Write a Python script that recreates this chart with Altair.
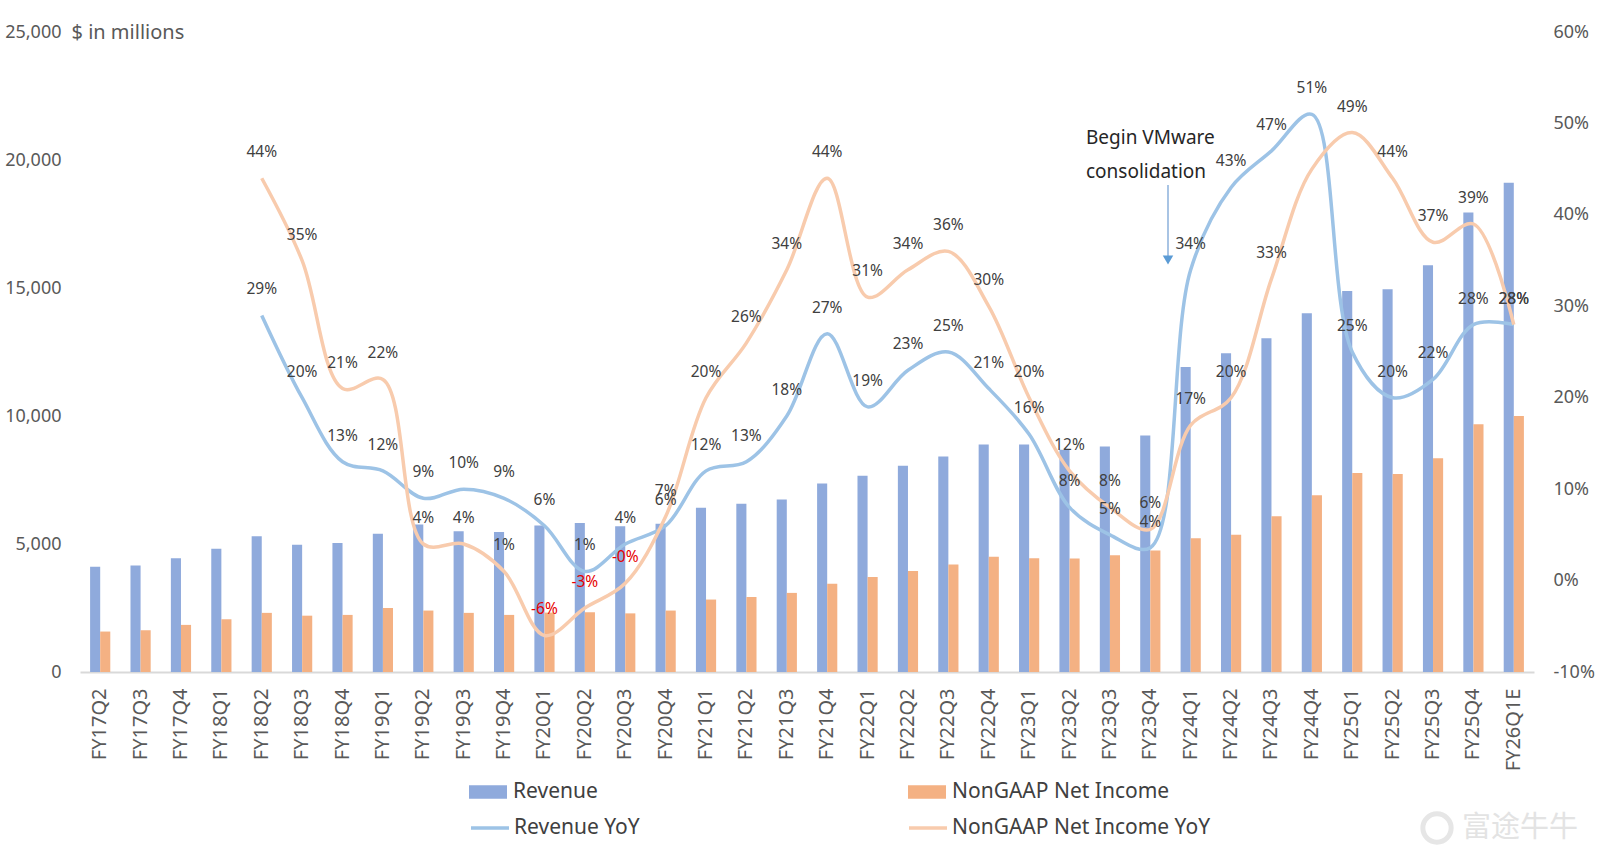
import altair as alt
import pandas as pd

FONT = "Noto Sans"

quarters = ["FY17Q2", "FY17Q3", "FY17Q4", "FY18Q1", "FY18Q2", "FY18Q3", "FY18Q4",
            "FY19Q1", "FY19Q2", "FY19Q3", "FY19Q4", "FY20Q1", "FY20Q2", "FY20Q3",
            "FY20Q4", "FY21Q1", "FY21Q2", "FY21Q3", "FY21Q4", "FY22Q1", "FY22Q2",
            "FY22Q3", "FY22Q4", "FY23Q1", "FY23Q2", "FY23Q3", "FY23Q4", "FY24Q1",
            "FY24Q2", "FY24Q3", "FY24Q4", "FY25Q1", "FY25Q2", "FY25Q3", "FY25Q4",
            "FY26Q1E"]

# $ in millions
revenue = [4110, 4160, 4440, 4810, 5300, 4970, 5040, 5400, 5760, 5500, 5470, 5720,
           5820, 5690, 5790, 6420, 6570, 6740, 7360, 7670, 8060, 8420, 8890, 8890,
           8680, 8810, 9240, 11910, 12450, 13040, 14010, 14880, 14950, 15890, 17950, 19110]
net_income = [1580, 1630, 1840, 2060, 2310, 2200, 2230, 2500, 2400, 2310, 2230, 2320,
              2330, 2290, 2400, 2830, 2930, 3090, 3450, 3710, 3950, 4200, 4500, 4440,
              4430, 4560, 4750, 5220, 5360, 6080, 6900, 7770, 7730, 8350, 9680, 10000]

# year-over-year growth, percent (no comparison for the first four quarters)
revenue_yoy = [None] * 4 + [29, 20, 13, 12, 9, 10, 9, 6, 1, 4, 6, 12, 13, 18, 27, 19,
                            23, 25, 21, 16, 8, 5, 3.6, 34, 43, 47, 51, 25, 20, 22, 28, 28]
net_income_yoy = [None] * 4 + [44, 35, 21, 22, 4, 4, 1, -6, -3, -0.3, 7, 20, 26, 34, 44, 31,
                               34, 36, 30, 20, 12, 8, 5.6, 17, 20, 33, 45, 49, 44, 37, 39, 28]
# points drawn without a value label
unlabelled = [("NonGAAP Net Income YoY", "FY24Q4")]

bar_names = ["Revenue", "NonGAAP Net Income"]
bar_colors = ["#8faadc", "#f4b183"]
line_names = ["Revenue YoY", "NonGAAP Net Income YoY"]
line_colors = ["#9dc3e6", "#f8cbad"]

n = len(quarters)
bars_df = pd.DataFrame({
    "Quarter": quarters * 2,
    "Series": [bar_names[0]] * n + [bar_names[1]] * n,
    "Value": revenue + net_income,
})

rows = []
for name, series in zip(line_names, [revenue_yoy, net_income_yoy]):
    for q, v in zip(quarters, series):
        if v is not None:
            rows.append({"Quarter": q, "Series": name, "YoY": v,
                         "Show": (name, q) not in unlabelled})
lines_df = pd.DataFrame(rows)

x_enc = alt.X(
    "Quarter:N", sort=quarters, title=None,
    scale=alt.Scale(paddingInner=0.5, paddingOuter=0.25),
    axis=alt.Axis(labelAngle=-90, labelFont=FONT, labelFontSize=20, labelColor="#595959",
                  labelPadding=16, ticks=False, grid=False, domainColor="#d9d9d9",
                  domainWidth=2, labelOverlap=False),
)

bars = alt.Chart(bars_df).mark_bar().encode(
    x=x_enc,
    xOffset=alt.XOffset("Series:N", sort=bar_names,
                        scale=alt.Scale(paddingInner=0, paddingOuter=0)),
    y=alt.Y("Value:Q", scale=alt.Scale(domain=[0, 25000], nice=False),
            axis=alt.Axis(orient="left", values=[0, 5000, 10000, 15000, 20000, 25000],
                          format=",.0f", grid=False, ticks=False, domain=False,
                          labelFont=FONT, labelFontSize=18, labelColor="#595959",
                          labelPadding=19, title="$ in millions", titleAngle=0,
                          titleAlign="left", titleBaseline="middle", titleX=-9, titleY=0,
                          titleFont=FONT, titleFontSize=20, titleFontWeight="normal",
                          titleColor="#595959")),
    color=alt.Color("Series:N", sort=bar_names,
                    scale=alt.Scale(domain=bar_names, range=bar_colors),
                    legend=alt.Legend(title=None, orient="none", legendX=389, legendY=741,
                                      direction="horizontal", columns=2, columnPadding=310,
                                      symbolType="M-1,-0.36H1V0.36H-1Z", symbolSize=1444,
                                      symbolStrokeWidth=0, labelFont=FONT, labelFontSize=21,
                                      labelColor="#404040", labelOffset=6, labelLimit=400)),
)

yoy_scale = alt.Scale(domain=[-10, 60], nice=False)

lines = alt.Chart(lines_df).mark_line(interpolate="catmull-rom", strokeWidth=3.5).encode(
    x=x_enc,
    y=alt.Y("YoY:Q", scale=yoy_scale,
            axis=alt.Axis(orient="right", values=[-10, 0, 10, 20, 30, 40, 50, 60],
                          labelExpr="datum.value + '%'", grid=False, ticks=False,
                          domain=False, labelFont=FONT, labelFontSize=18,
                          labelColor="#595959", labelPadding=19, title=None)),
    stroke=alt.Stroke("Series:N", sort=line_names,
                      scale=alt.Scale(domain=line_names, range=line_colors),
                      legend=alt.Legend(title=None, orient="none", legendX=389, legendY=775,
                                        direction="horizontal", columns=2, columnPadding=262,
                                        symbolType="stroke", symbolSize=1444,
                                        symbolStrokeWidth=3.5, labelFont=FONT,
                                        labelFontSize=21, labelColor="#404040",
                                        labelOffset=3, labelLimit=400)),
)

labels = alt.Chart(lines_df).transform_filter(
    "datum.Show"
).transform_calculate(
    label="(datum.YoY < 0 ? '-' : '') + format(abs(datum.YoY), '.0f') + '%'"
).mark_text(font=FONT, fontSize=15.5, dy=-26, baseline="middle").encode(
    x=x_enc,
    y=alt.Y("YoY:Q", scale=yoy_scale, axis=None),
    text="label:N",
    color=alt.condition("datum.YoY < 0", alt.value("#e60000"), alt.value("#404040")),
)

note_df = pd.DataFrame({"k": [0]})
note1 = alt.Chart(note_df).mark_text(
    text="Begin VMware", font=FONT, fontSize=19, align="left", baseline="middle",
    color="#262626").encode(x=alt.value(1006), y=alt.value(106))
note2 = alt.Chart(note_df).mark_text(
    text="consolidation", font=FONT, fontSize=19, align="left", baseline="middle",
    color="#262626").encode(x=alt.value(1006), y=alt.value(140))
arrow_line = alt.Chart(note_df).mark_rule(color="#7aa5d6", strokeWidth=1.3).encode(
    x=alt.value(1088), y=alt.value(153), y2=alt.value(224))
arrow_head = alt.Chart(note_df).mark_point(
    shape="triangle-down", filled=True, size=110, color="#5b9bd5", opacity=1).encode(
    x=alt.value(1088), y=alt.value(228))

mark_ring = alt.Chart(note_df).mark_point(
    shape="circle", size=800, filled=False, stroke="#e6e6e6", strokeWidth=5, opacity=1).encode(
    x=alt.value(1357), y=alt.value(796))
mark_text = alt.Chart(note_df).mark_text(
    text="富途牛牛", font="Noto Sans CJK SC", fontSize=29, align="left", baseline="middle",
    color="#e3e3e3").encode(x=alt.value(1382), y=alt.value(796))

chart = alt.layer(
    bars, lines, labels, note1, note2, arrow_line, arrow_head, mark_ring, mark_text
).resolve_scale(
    y="independent"
).properties(
    width=1454, height=640,
    autosize=alt.AutoSizeParams(type="none"),
    padding={"left": 80, "top": 32, "right": 66, "bottom": 193},
    background="white",
).configure_view(stroke=None)

chart.save("out.html", embed_options={"renderer": "svg", "actions": False})
